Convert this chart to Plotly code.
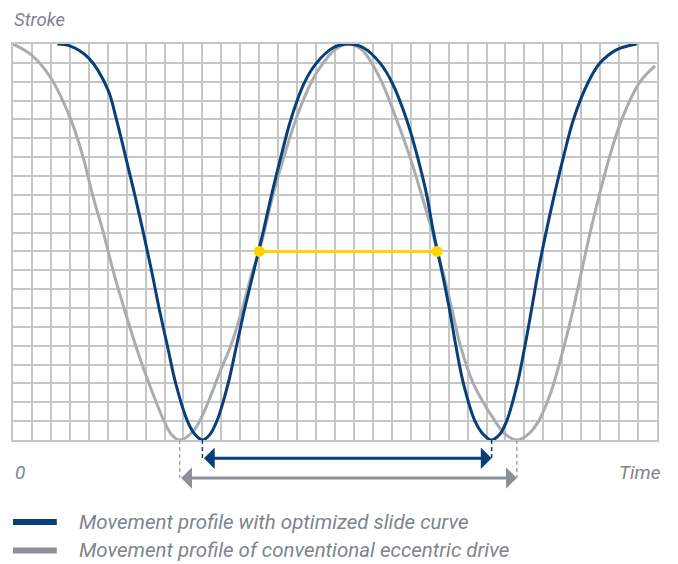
import plotly.graph_objects as go

# ---------------- data (grid units: 34 columns x 21 rows) ----------------
gray_x = [0, 1, 2, 3.05, 3.7, 4.2, 4.77, 5.28, 5.86, 6.48, 7.18, 7.98, 8.4, 8.8,
          9.5, 10.0, 10.5, 11.0, 11.5, 12.12, 12.6, 13.0, 13.73, 14.3, 14.93, 15.76, 16.38, 17.0, 17.7,
          18.4, 18.93, 19.46, 20.25, 20.96, 21.57, 22.15, 22.4, 22.68, 23.16, 23.62, 24.3, 25.45, 26.0, 26.6,
          27.2, 27.75, 28.2, 28.55, 29.1, 29.59, 30.03, 30.47, 30.96, 31.49, 32.14, 33.11, 33.9]
gray_y = [21, 20.4, 19.2, 17, 15, 13, 11, 9, 7, 5, 3, 1, 0.25, 0,
          0.45, 1.3, 2.5, 3.8, 5.0, 7, 8.8, 10, 13, 15, 17, 19, 20, 20.7, 21,
          20.7, 20, 19, 17, 15, 13, 11, 10, 9, 7, 5, 3, 1, 0.3, 0,
          0.3, 1, 2, 3, 5, 7, 9, 11, 13, 15, 17, 19, 19.84]

blue_x = [2.34, 3.0, 4.0, 5.0, 5.46, 5.95, 6.43, 6.88, 7.31, 7.71, 8.15, 8.59, 9.21, 9.6, 10.0,
          10.4, 10.8, 11.36, 11.8, 12.24, 12.72, 13.2, 13.65, 14.14, 14.67, 15.41, 16.03, 16.9, 17.7,
          18.5, 19.37, 19.99, 20.78, 21.36, 21.84, 22.2, 22.63, 23.03, 23.38, 23.78, 24.39, 24.83, 25.27,
          25.7, 26.06, 26.63, 27.03, 27.39, 27.74, 28.14, 28.58, 29.06, 29.59, 30.38, 31.0, 31.88, 32.93]
blue_y = [21, 20.9, 20.25, 18.6, 17, 15, 13, 11, 9, 7, 5, 3, 1, 0.3, 0,
          0.3, 1.1, 3, 5, 7, 9, 11, 13, 15, 17, 19, 20, 20.8, 21,
          20.8, 20, 19, 17, 15, 13, 11, 9, 7, 5, 3, 1, 0.3, 0,
          0.3, 1, 3, 5, 7, 9, 11, 13, 15, 17, 19, 20, 20.7, 21]

yellow_x = [13.0, 22.4]
yellow_y = [10, 10]

blue_min_x = [10.0, 25.27]   # bottom dead centres, optimized slide curve
gray_min_x = [8.8, 26.6]     # bottom dead centres, eccentric drive

x_range = [0, 34]
y_range = [0, 21]

y_label = "Stroke"
x_label = "Time"
origin_label = "0"
legend_labels = ["Movement profile with optimized slide curve",
                 "Movement profile of conventional eccentric drive"]

# ---------------- style ----------------
BLUE = "#073F79"
GRAY_CURVE = "#A9ADB2"
GRAY_DARK = "#8B9197"
YELLOW = "#FFD400"
GRID = "#C6C6C6"
TEXT = "#7E858C"
FONT = "Roboto"

fig = go.Figure()
fig.add_trace(go.Scatter(x=gray_x, y=gray_y, mode="lines",
                         line=dict(color=GRAY_CURVE, width=3, shape="spline"),
                         hoverinfo="skip", showlegend=False))
fig.add_trace(go.Scatter(x=blue_x, y=blue_y, mode="lines",
                         line=dict(color=BLUE, width=3, shape="spline"),
                         hoverinfo="skip", showlegend=False))
fig.add_trace(go.Scatter(x=yellow_x, y=yellow_y, mode="lines+markers",
                         line=dict(color=YELLOW, width=3),
                         marker=dict(color=YELLOW, size=11),
                         hoverinfo="skip", showlegend=False, cliponaxis=False))

axis_common = dict(showgrid=True, gridcolor=GRID, gridwidth=1.5, zeroline=False,
                   showticklabels=False, ticks="", showline=True, mirror=True,
                   linecolor=GRID, linewidth=1.5, tick0=0, dtick=1, fixedrange=True)

blue_arrow_y = -0.046
gray_arrow_y = -0.096

shapes = []
for xm in blue_min_x:
    shapes.append(dict(type="line", xref="x", yref="paper", x0=xm, x1=xm, y0=0, y1=blue_arrow_y,
                       line=dict(color=BLUE, width=1.5, dash="4px,3px")))
for xm in gray_min_x:
    shapes.append(dict(type="line", xref="x", yref="paper", x0=xm, x1=xm, y0=0, y1=gray_arrow_y,
                       line=dict(color="#A0A5AA", width=1.5, dash="4px,3px")))

# legend swatches
leg_y = [-0.207, -0.279]
leg_colors = [BLUE, GRAY_DARK]
for yy, col in zip(leg_y, leg_colors):
    shapes.append(dict(type="line", xref="paper", yref="paper", x0=0, x1=0.068, y0=yy, y1=yy,
                       line=dict(color=col, width=6)))

annotations = []
for mins, yy, col in [(blue_min_x, blue_arrow_y, BLUE), (gray_min_x, gray_arrow_y, GRAY_DARK)]:
    annotations.append(dict(x=mins[1], y=yy, xref="x", yref="paper",
                            ax=mins[0], ay=0, axref="x", ayref="pixel",
                            text="", showarrow=True, arrowside="end+start",
                            arrowhead=1, startarrowhead=1, arrowsize=1.2, startarrowsize=1.2,
                            arrowwidth=3, arrowcolor=col, standoff=0, startstandoff=0))

font_it = lambda s: dict(family=FONT, size=s, color=TEXT, style="italic")
annotations.append(dict(text=y_label, x=0, y=1.0909, xref="paper", yref="paper",
                        xanchor="left", yanchor="top", showarrow=False, borderpad=0,
                        font=font_it(18.5)))
annotations.append(dict(text=origin_label, x=0, y=-0.081, xref="paper", yref="paper",
                        xanchor="left", yanchor="middle", showarrow=False, font=font_it(19)))
annotations.append(dict(text=x_label, x=1.01, y=-0.081, xref="paper", yref="paper",
                        xanchor="right", yanchor="middle", showarrow=False, font=font_it(19)))
for lab, yy in zip(legend_labels, leg_y):
    annotations.append(dict(text=lab, x=0.1, y=yy, xref="paper", yref="paper",
                            xanchor="left", yanchor="middle", showarrow=False, font=font_it(20.5)))

# page body has an 8px default margin, so the figure is 8px smaller and shifted
fig.update_layout(
    width=670, height=556,
    margin=dict(l=5, r=21, t=36, b=124),
    paper_bgcolor="white", plot_bgcolor="white",
    xaxis=dict(range=x_range, **axis_common),
    yaxis=dict(range=y_range, **axis_common),
    shapes=shapes, annotations=annotations,
    showlegend=False,
)

fig.write_html("out.html")
